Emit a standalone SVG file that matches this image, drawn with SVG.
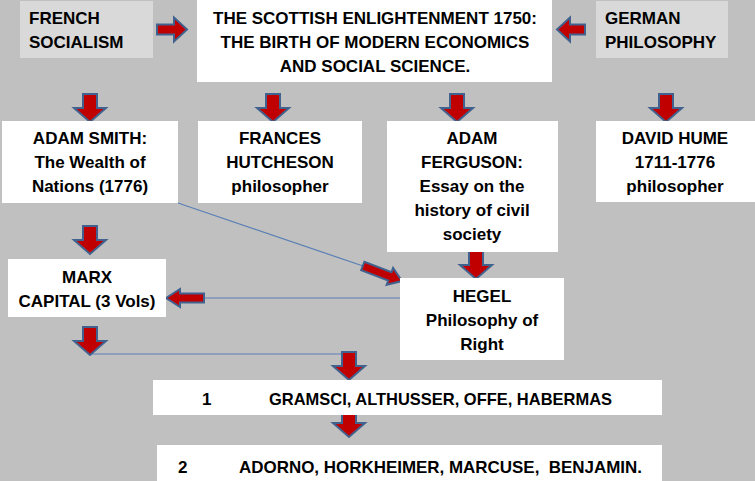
<svg xmlns="http://www.w3.org/2000/svg" width="755" height="481" viewBox="0 0 755 481">
<defs>
<style>
.box{fill:#ffffff}
.gbox{fill:#d9d9d9}
.t{font-family:"Liberation Sans",Arial,sans-serif;font-weight:bold;font-size:17px;fill:#000}
.c{text-anchor:middle}
.arr{fill:#c00000;stroke:#41628f;stroke-width:2;stroke-linejoin:miter}
.ln{stroke:#5a7fb5;stroke-width:1.2;fill:none}
</style>
<path id="down" d="M-7,0 h14 v14 h9 l-16,14 l-16,-14 h9 z"/>
</defs>
<rect width="755" height="481" fill="#c0c0c0"/>

<g id="connectors">
<line class="ln" x1="178" y1="203" x2="366" y2="267"/>
<line class="ln" x1="204" y1="298" x2="400" y2="298"/>
<line class="ln" x1="90" y1="354" x2="343" y2="354"/>
<path class="arr" d="M187,29.5 l-13,-12 v7 h-17 v10 h17 v7 z"/>
<path class="arr" d="M557,29.5 l13,-12 v7 h15 v10 h-15 v7 z"/>
<use href="#down" class="arr" x="90" y="94"/>
<use href="#down" class="arr" x="273" y="94"/>
<use href="#down" class="arr" x="457" y="94"/>
<use href="#down" class="arr" x="666" y="94"/>
<use href="#down" class="arr" x="90" y="226"/>
<use href="#down" class="arr" x="476" y="251"/>
<path class="arr" d="M166,298 l14,-9 v4.5 h24 v9 h-24 v4.5 z"/>
<path class="arr" transform="translate(402,281) rotate(21)" d="M0,0 l-13,-9 v4.5 h-29 v9 h29 v4.5 z"/>
<use href="#down" class="arr" x="90" y="327"/>
<use href="#down" class="arr" x="349" y="352"/>
<use href="#down" class="arr" x="349" y="409"/>
</g>

<g id="french">
<rect class="gbox" x="20" y="1" width="133" height="57"/>
<text class="t" x="29" y="24">FRENCH</text>
<text class="t" x="29" y="48">SOCIALISM</text>
</g>

<g id="scottish">
<rect class="box" x="197" y="0" width="355" height="82"/>
<text class="t c" x="375" y="24">THE SCOTTISH ENLIGHTENMENT 1750:</text>
<text class="t c" x="375" y="48">THE BIRTH OF MODERN ECONOMICS</text>
<text class="t c" x="375" y="72">AND SOCIAL SCIENCE.</text>
</g>

<g id="german">
<rect class="gbox" x="596" y="1" width="132" height="57"/>
<text class="t" x="605" y="24">GERMAN</text>
<text class="t" x="605" y="48">PHILOSOPHY</text>
</g>

<g id="smith">
<rect class="box" x="2" y="121" width="176" height="82"/>
<text class="t c" x="90" y="144">ADAM SMITH:</text>
<text class="t c" x="90" y="168">The Wealth of</text>
<text class="t c" x="90" y="192">Nations (1776)</text>
</g>

<g id="hutcheson">
<rect class="box" x="198" y="121" width="164" height="82"/>
<text class="t c" x="280" y="144">FRANCES</text>
<text class="t c" x="280" y="168">HUTCHESON</text>
<text class="t c" x="280" y="192">philosopher</text>
</g>

<g id="ferguson">
<rect class="box" x="387" y="121" width="171" height="131"/>
<text class="t c" x="472" y="144">ADAM</text>
<text class="t c" x="472" y="168">FERGUSON:</text>
<text class="t c" x="472" y="192">Essay on the</text>
<text class="t c" x="472" y="216">history of civil</text>
<text class="t c" x="472" y="240">society</text>
</g>

<g id="hume">
<rect class="box" x="596" y="121" width="159" height="81"/>
<text class="t c" x="675" y="144">DAVID HUME</text>
<text class="t c" x="675" y="168">1711-1776</text>
<text class="t c" x="675" y="192">philosopher</text>
</g>

<g id="marx">
<rect class="box" x="8" y="259" width="158" height="58"/>
<text class="t c" x="87" y="283">MARX</text>
<text class="t c" x="87" y="307">CAPITAL (3 Vols)</text>
</g>

<g id="hegel">
<rect class="box" x="400" y="278" width="164" height="82"/>
<text class="t c" x="482" y="302">HEGEL</text>
<text class="t c" x="482" y="326">Philosophy of</text>
<text class="t c" x="482" y="350">Right</text>
</g>

<g id="row1">
<rect class="box" x="153" y="380" width="509" height="35"/>
<text class="t" x="202" y="405">1</text>
<text class="t" x="269" y="405" textLength="343" lengthAdjust="spacingAndGlyphs">GRAMSCI, ALTHUSSER, OFFE, HABERMAS</text>
</g>

<g id="row2">
<rect class="box" x="157" y="445" width="505" height="36"/>
<text class="t" x="178" y="473">2</text>
<text class="t" x="239" y="473" xml:space="preserve" style="white-space:pre" textLength="403" lengthAdjust="spacingAndGlyphs">ADORNO, HORKHEIMER, MARCUSE,  BENJAMIN.</text>
</g>
</svg>
